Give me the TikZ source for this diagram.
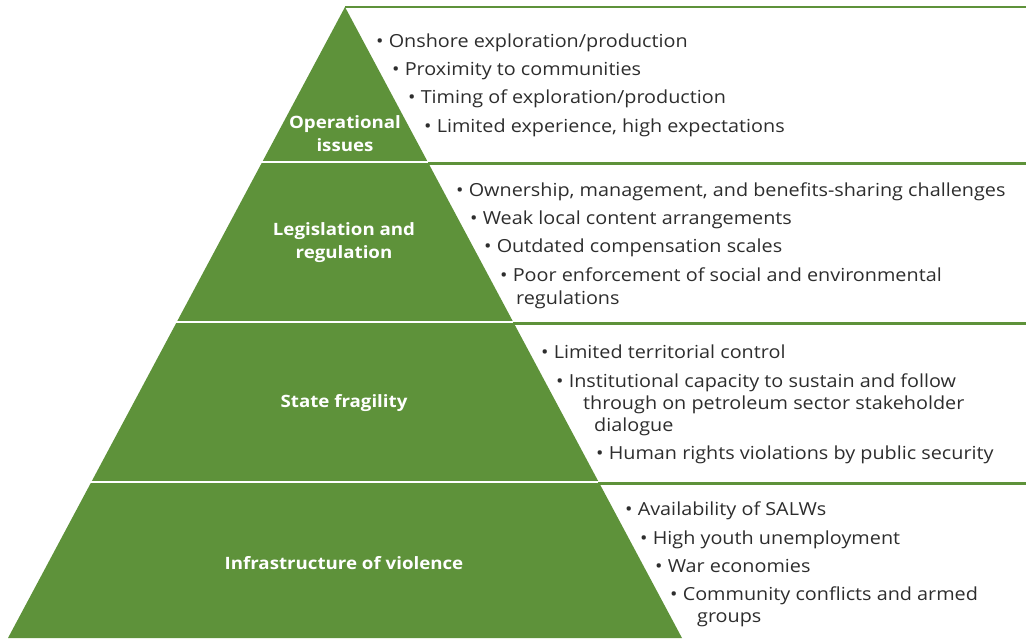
\documentclass[tikz,border=0pt]{standalone}
\usepackage{fontspec}
\setmainfont[FakeStretch=1.1]{Open Sans}
\definecolor{pgreen}{RGB}{94,146,58}
\definecolor{txt}{RGB}{45,45,45}
\begin{document}
\begin{tikzpicture}[x=1pt,y=-1pt,
  item/.style={anchor=mid west,inner sep=0pt,text=txt,font=\fontsize{18}{21}\selectfont,yshift=-4pt},
  lbl/.style={align=center,text=white,font=\fontsize{17}{23}\selectfont\bfseries,inner sep=0pt},
  sep/.style={white,line width=2.6pt},
  gline/.style={pgreen,line width=2.6pt}]
\useasboundingbox (0,0) rectangle (1026,638);
\coordinate (apex) at (345,7);
\coordinate (bl) at (8,638);
\coordinate (br) at (682,638);
\fill[pgreen] (apex) -- (br) -- (bl) -- cycle;
% separators
\draw[sep] (255,162) -- (430,162);
\draw[sep] (170,322) -- (515,322);
\draw[sep] (85,482) -- (600,482);
% green lines to the right
\draw[gline] (apex) -- (1026,7);
\draw[gline] (428,163.5) -- (1026,163.5);
\draw[gline] (513,323.5) -- (1026,323.5);
\draw[gline] (598,483.5) -- (1026,483.5);
% labels
\node[lbl] (l1) at (345,134) {Operational\\issues};
\node[lbl] (l2) at (344,243) {Legislation and\\regulation};
\node[lbl] (l3) at (344,403) {State fragility};
\node[lbl] (l4) at (344,563) {Infrastructure of violence};
% layer 1
\node[item] (a1) at (376,41) {• Onshore exploration/production};
\node[item] (a2) at (392,69) {• Proximity to communities};
\node[item] (a3) at (408,97) {• Timing of exploration/production};
\node[item] (a4) at (424,126) {• Limited experience, high expectations};
% layer 2
\node[item] (b1) at (456,190) {• Ownership, management, and benefits-sharing challenges};
\node[item] (b2) at (470,218) {• Weak local content arrangements};
\node[item] (b3) at (484,246) {• Outdated compensation scales};
\node[item] (b4) at (500,275) {• Poor enforcement of social and environmental};
\node[item] (b5) at (516,298) {regulations};
% layer 3
\node[item] (c1) at (541,352) {• Limited territorial control};
\node[item] (c2) at (556,381) {• Institutional capacity to sustain and follow};
\node[item] (c3) at (583,403) {through on petroleum sector stakeholder};
\node[item] (c4) at (594,425) {dialogue};
\node[item] (c5) at (596,453) {• Human rights violations by public security};
% layer 4
\node[item] (d1) at (625,509) {• Availability of SALWs};
\node[item] (d2) at (640,538) {• High youth unemployment};
\node[item] (d3) at (655,566) {• War economies};
\node[item] (d4) at (670,594) {• Community conflicts and armed};
\node[item] (d5) at (697,616) {groups};
\end{tikzpicture}
\end{document}
